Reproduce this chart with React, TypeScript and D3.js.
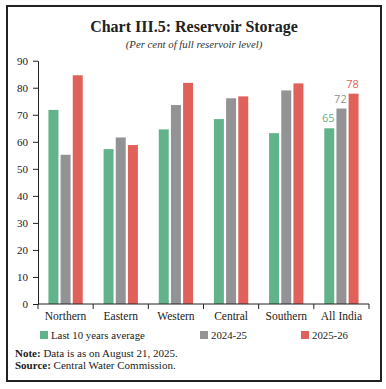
import React, { useEffect, useRef } from "react";
import * as d3 from "d3";

const categories = ["Northern", "Eastern", "Western", "Central", "Southern", "All India"];
const seriesNames = ["Last 10 years average", "2024-25", "2025-26"];
const last10Avg = [71.8, 57.3, 64.6, 68.4, 63.2, 65];
const y2024 = [55.2, 61.6, 73.6, 76.1, 79.0, 72.3];
const y2026 = [84.6, 58.8, 81.8, 76.8, 81.6, 77.8];
const yTicks = [0, 10, 20, 30, 40, 50, 60, 70, 80, 90];
const labelled = ["All India"];
const colors = ["#62b38b", "#939396", "#e0605a"];

const serif = "'Liberation Serif', 'DejaVu Serif', serif";

export default function App() {
  const ref = useRef<SVGSVGElement>(null);

  useEffect(() => {
    const svg = d3.select(ref.current);
    svg.selectAll("*").remove();

    const W = 386;
    const left = 38, right = 369, top = 60.7, bottom = 304;

    // frame
    svg.append("rect")
      .attr("x", 7).attr("y", 6).attr("width", 374).attr("height", 375)
      .attr("fill", "#fff").attr("stroke", "#222").attr("stroke-width", 2);

    svg.append("text")
      .attr("x", W / 2 + 1).attr("y", 32)
      .attr("text-anchor", "middle")
      .attr("font-family", serif).attr("font-weight", "bold").attr("font-size", 16)
      .attr("fill", "#222")
      .text("Chart III.5: Reservoir Storage");

    svg.append("text")
      .attr("x", W / 2 + 1).attr("y", 48)
      .attr("text-anchor", "middle")
      .attr("font-family", serif).attr("font-style", "italic").attr("font-size", 10.8)
      .attr("fill", "#333")
      .text("(Per cent of full reservoir level)");

    const y = d3.scaleLinear().domain([0, 90]).range([bottom, top]);
    const x0 = d3.scaleBand<string>().domain(categories).range([left, right])
      .paddingInner(0.378).paddingOuter(0.189);
    const x1 = d3.scaleBand<string>().domain(seriesNames).range([0, x0.bandwidth()])
      .paddingInner(0.18);

    const values = [last10Avg, y2024, y2026];
    const data = categories.flatMap((c, i) =>
      seriesNames.map((s, j) => ({ cat: c, series: s, j, value: values[j][i] }))
    );

    svg.append("g").selectAll("rect").data(data).join("rect")
      .attr("x", (d) => x0(d.cat)! + x1(d.series)!)
      .attr("y", (d) => y(d.value))
      .attr("width", x1.bandwidth())
      .attr("height", (d) => bottom - y(d.value))
      .attr("fill", (d) => colors[d.j]);

    // value labels for All India
    svg.append("g").selectAll("text")
      .data(data.filter((d) => labelled.includes(d.cat)))
      .join("text")
      .attr("x", (d) => x0(d.cat)! + x1(d.series)! + x1.bandwidth() / 2 - 1)
      .attr("y", (d) => y(d.value) - 6)
      .attr("text-anchor", "middle")
      .attr("font-family", "'Open Sans', sans-serif").attr("font-size", 11)
      .attr("fill", (d) => colors[d.j])
      .text((d) => Math.round(d.value));

    // y axis
    const yAxis = svg.append("g")
      .attr("transform", `translate(${left},0)`)
      .call(d3.axisLeft(y).tickValues(yTicks).tickSize(5).tickSizeOuter(0));
    yAxis.select(".domain").attr("stroke", "#222");
    yAxis.selectAll("line").attr("stroke", "#222");
    yAxis.selectAll("text")
      .attr("font-family", serif).attr("font-size", 11).attr("fill", "#222")
      .attr("x", -10);

    // x axis
    const step = x0.step();
    const gap = step * x0.paddingInner();
    svg.append("line")
      .attr("x1", left).attr("x2", right).attr("y1", bottom).attr("y2", bottom)
      .attr("stroke", "#222");
    const bounds = categories.map((c) => x0(c)! - gap / 2).concat([right]);
    svg.append("g").selectAll("line").data(bounds).join("line")
      .attr("x1", (d) => d).attr("x2", (d) => d)
      .attr("y1", bottom).attr("y2", bottom + 5)
      .attr("stroke", "#222");
    svg.append("g").selectAll("text").data(categories).join("text")
      .attr("x", (d) => x0(d)! + x0.bandwidth() / 2)
      .attr("y", 320)
      .attr("text-anchor", "middle")
      .attr("font-family", serif).attr("font-size", 11.5).attr("fill", "#222")
      .text((d) => d);

    // legend
    const legendX = [40, 200, 301];
    const lg = svg.append("g").selectAll("g").data(seriesNames).join("g")
      .attr("transform", (_d, i) => `translate(${legendX[i]},331)`);
    lg.append("rect").attr("width", 8).attr("height", 8)
      .attr("fill", (_d, i) => colors[i]);
    lg.append("text").attr("x", 11).attr("y", 8)
      .attr("font-family", serif).attr("font-size", 10.8).attr("fill", "#222")
      .text((d) => d);

    const note = svg.append("text").attr("x", 15).attr("y", 357)
      .attr("font-family", serif).attr("font-size", 11).attr("fill", "#222");
    note.append("tspan").attr("font-weight", "bold").text("Note: ");
    note.append("tspan").text("Data is as on August 21, 2025.");
    const src = svg.append("text").attr("x", 15).attr("y", 369)
      .attr("font-family", serif).attr("font-size", 11).attr("fill", "#222");
    src.append("tspan").attr("font-weight", "bold").text("Source: ");
    src.append("tspan").text("Central Water Commission.");
  }, []);

  return (
    <svg
      ref={ref}
      width={386}
      height={389}
      style={{ position: "absolute", left: 0, top: 0, background: "#fff" }}
    />
  );
}
